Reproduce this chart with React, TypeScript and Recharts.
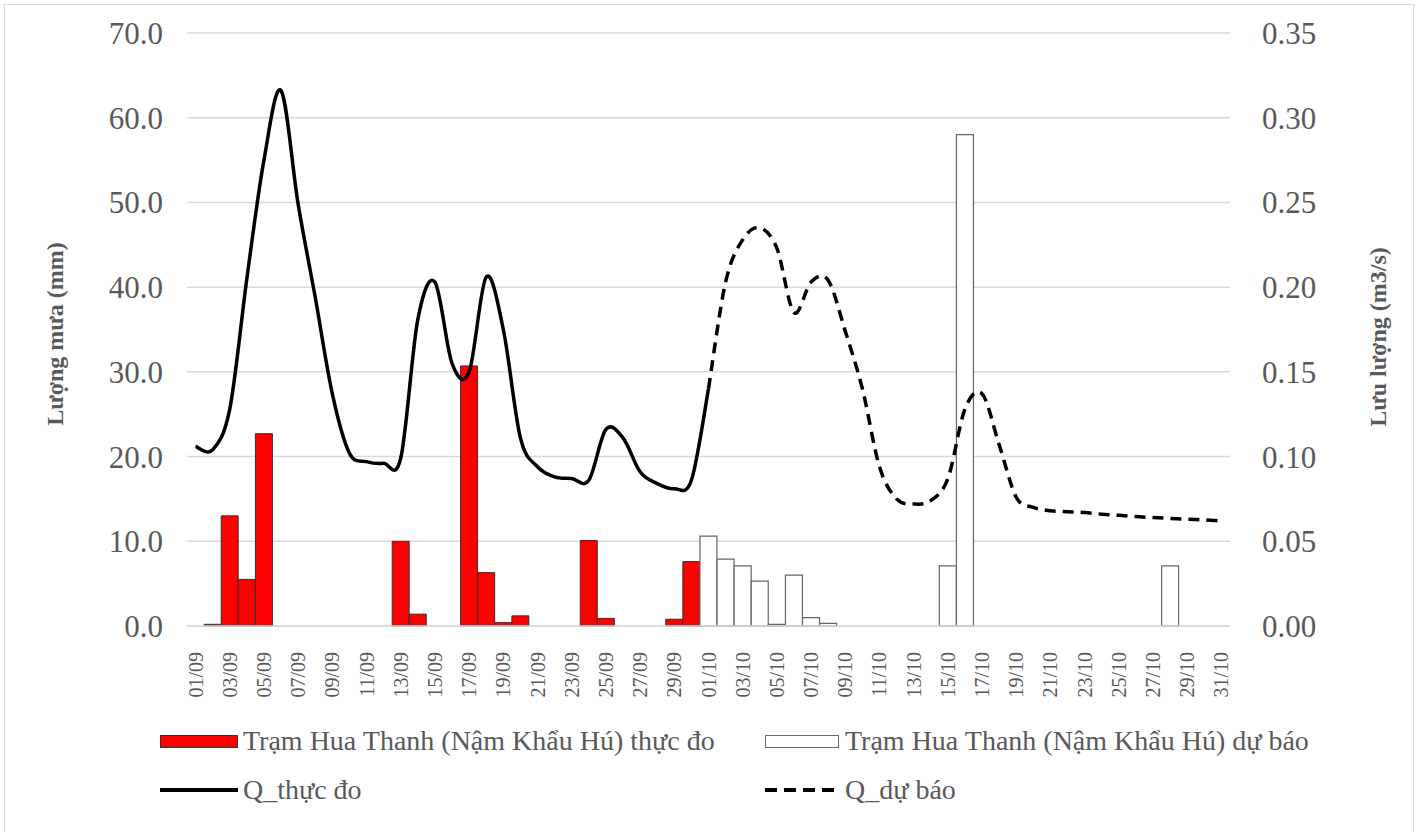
import {
    ComposedChart,
    Bar,
    Line,
    XAxis,
    YAxis,
    CartesianGrid,
} from "recharts";

const dates = [
    "01/09", "02/09", "03/09", "04/09", "05/09", "06/09", "07/09", "08/09", "09/09", "10/09",
    "11/09", "12/09", "13/09", "14/09", "15/09", "16/09", "17/09", "18/09", "19/09", "20/09",
    "21/09", "22/09", "23/09", "24/09", "25/09", "26/09", "27/09", "28/09", "29/09", "30/09",
    "01/10", "02/10", "03/10", "04/10", "05/10", "06/10", "07/10", "08/10", "09/10", "10/10",
    "11/10", "12/10", "13/10", "14/10", "15/10", "16/10", "17/10", "18/10", "19/10", "20/10",
    "21/10", "22/10", "23/10", "24/10", "25/10", "26/10", "27/10", "28/10", "29/10", "30/10",
    "31/10",
];

// luong mua thuc do (mm)
const rainObserved = [
    null, 0.2, 13.0, 5.5, 22.7, null, null, null, null, null,
    null, null, 10.0, 1.4, null, null, 30.7, 6.3, 0.4, 1.2,
    null, null, null, 10.1, 0.9, null, null, null, 0.8, 7.6,
    null, null, null, null, null, null, null, null, null, null,
    null, null, null, null, null, null, null, null, null, null,
    null, null, null, null, null, null, null, null, null, null,
    null,
];

// luong mua du bao (mm)
const rainForecast = [
    null, null, null, null, null, null, null, null, null, null,
    null, null, null, null, null, null, null, null, null, null,
    null, null, null, null, null, null, null, null, null, null,
    10.6, 7.9, 7.1, 5.3, 0.2, 6.0, 1.0, 0.3, null, null,
    null, null, null, null, 7.1, 58.0, null, null, null, null,
    null, null, null, null, null, null, null, 7.1, null, null,
    null,
];

// Q thuc do (m3/s)
const qObserved = [
    0.106, 0.104, 0.128, 0.205, 0.275, 0.316, 0.249, 0.194, 0.137, 0.102,
    0.097, 0.096, 0.099, 0.181, 0.203, 0.155, 0.150, 0.206, 0.175, 0.111,
    0.094, 0.088, 0.087, 0.086, 0.116, 0.111, 0.091, 0.084, 0.081, 0.086,
    0.140, null, null, null, null, null, null, null, null, null,
    null, null, null, null, null, null, null, null, null, null,
    null, null, null, null, null, null, null, null, null, null,
    null,
];

// Q du bao (m3/s)
const qForecast = [
    null, null, null, null, null, null, null, null, null, null,
    null, null, null, null, null, null, null, null, null, null,
    null, null, null, null, null, null, null, null, null, null,
    0.140, 0.203, 0.228, 0.235, 0.223, 0.185, 0.203, 0.204, 0.174, 0.140,
    0.094, 0.075, 0.072, 0.074, 0.087, 0.128, 0.137, 0.107, 0.076, 0.070,
    0.068, 0.0675, 0.067, 0.066, 0.0653, 0.0646, 0.064, 0.0635, 0.063, 0.0626,
    0.062,
];

const rainTicks = [0, 10, 20, 30, 40, 50, 60, 70];
const flowTicks = [0, 0.05, 0.1, 0.15, 0.2, 0.25, 0.3, 0.35];

const rows = dates.map((date, i) => ({
    date,
    rainObs: rainObserved[i],
    rainFc: rainForecast[i],
    qObs: qObserved[i],
    qFc: qForecast[i],
}));

const FONT = "'Liberation Serif', 'Times New Roman', serif";
const TEXT = "#595959";

// Excel-like smoothed line (uniform Catmull-Rom through the projected points)
const excelSmooth = (context: any) => {
    let pts: number[][] = [];
    return {
        areaStart() {},
        areaEnd() {},
        lineStart() {
            pts = [];
        },
        point(x: number, y: number) {
            pts.push([+x, +y]);
        },
        lineEnd() {
            if (!pts.length) return;
            context.moveTo(pts[0][0], pts[0][1]);
            for (let i = 0; i < pts.length - 1; i++) {
                const p0 = pts[i - 1] || pts[i];
                const p1 = pts[i];
                const p2 = pts[i + 1];
                const p3 = pts[i + 2] || p2;
                context.bezierCurveTo(
                    p1[0] + (p2[0] - p0[0]) / 6,
                    p1[1] + (p2[1] - p0[1]) / 6,
                    p2[0] - (p3[0] - p1[0]) / 6,
                    p2[1] - (p3[1] - p1[1]) / 6,
                    p2[0],
                    p2[1]
                );
            }
        },
    };
};

const DateTick = ({ x, y, payload }: any) => (
    <g transform={`translate(${x},${y})`}>
        <text
            transform="rotate(-90)"
            x={-26}
            y={0}
            dy="0.35em"
            textAnchor="end"
            fill={TEXT}
            fontSize={20}
            fontFamily={FONT}
        >
            {payload.value}
        </text>
    </g>
);

const legendText = {
    fontFamily: FONT,
    fontSize: 28,
    color: TEXT,
    whiteSpace: "nowrap" as const,
    position: "absolute" as const,
    lineHeight: "30px",
};

export default function App() {
    return (
        <div
            style={{
                position: "absolute",
                left: 0,
                top: 0,
                width: 1419,
                height: 832,
                overflow: "hidden",
                background: "#fff",
            }}
        >
            <div
                style={{
                    position: "absolute",
                    left: 4,
                    top: 4,
                    width: 1408,
                    height: 900,
                    border: "1px solid #d9d9d9",
                }}
            />

            <ComposedChart
                width={1419}
                height={832}
                data={rows}
                margin={{ top: 33, right: 0, bottom: 126, left: 0 }}
                barCategoryGap={0}
                barGap={0}
                style={{ position: "absolute", left: 0, top: 0 }}
            >
                <CartesianGrid yAxisId="left" vertical={false} stroke="#d9d9d9" strokeWidth={1.5} />

                <XAxis
                    dataKey="date"
                    interval={1}
                    height={80}
                    tickLine={false}
                    axisLine={{ stroke: "#d9d9d9", strokeWidth: 1.5 }}
                    tickSize={0}
                    tickMargin={0}
                    tick={<DateTick />}
                />

                <YAxis
                    yAxisId="left"
                    width={187}
                    domain={[0, 70]}
                    ticks={rainTicks}
                    tickFormatter={(v: number) => v.toFixed(1)}
                    axisLine={false}
                    tickLine={false}
                    tickSize={0}
                    tickMargin={24}
                    tick={{ fill: TEXT, fontSize: 31, fontFamily: FONT }}
                />

                <YAxis
                    yAxisId="right"
                    orientation="right"
                    width={189}
                    domain={[0, 0.35]}
                    ticks={flowTicks}
                    tickFormatter={(v: number) => v.toFixed(2)}
                    axisLine={false}
                    tickLine={false}
                    tickSize={0}
                    tickMargin={32}
                    tick={{ fill: TEXT, fontSize: 31, fontFamily: FONT }}
                />

                <Bar
                    yAxisId="left"
                    dataKey="rainObs"
                    stackId="rain"
                    fill="#ff0000"
                    stroke="#333333"
                    strokeWidth={1}
                    isAnimationActive={false}
                />
                <Bar
                    yAxisId="left"
                    dataKey="rainFc"
                    stackId="rain"
                    fill="#ffffff"
                    stroke="#666666"
                    strokeWidth={1.2}
                    isAnimationActive={false}
                />

                <Line
                    yAxisId="right"
                    type={excelSmooth as any}
                    dataKey="qObs"
                    stroke="#000000"
                    strokeWidth={3.5}
                    dot={false}
                    activeDot={false}
                    isAnimationActive={false}
                />
                <Line
                    yAxisId="right"
                    type={excelSmooth as any}
                    dataKey="qFc"
                    stroke="#000000"
                    strokeWidth={3.5}
                    strokeDasharray="11 7"
                    dot={false}
                    activeDot={false}
                    isAnimationActive={false}
                />
            </ComposedChart>

            {/* axis titles */}
            <div
                style={{
                    position: "absolute",
                    left: 55,
                    top: 334,
                    transform: "translate(-50%, -50%) rotate(-90deg)",
                    fontFamily: FONT,
                    fontSize: 24,
                    fontWeight: "bold",
                    color: TEXT,
                    whiteSpace: "nowrap",
                }}
            >
                Lượng mưa (mm)
            </div>
            <div
                style={{
                    position: "absolute",
                    left: 1378,
                    top: 337,
                    transform: "translate(-50%, -50%) rotate(-90deg)",
                    fontFamily: FONT,
                    fontSize: 24,
                    fontWeight: "bold",
                    color: TEXT,
                    whiteSpace: "nowrap",
                }}
            >
                Lưu lượng (m3/s)
            </div>

            {/* legend */}
            <div style={{ position: "absolute", left: 160, top: 735, width: 76, height: 11, background: "#ff0000", border: "1px solid #333" }} />
            <div style={{ ...legendText, left: 243, top: 726 }}>Trạm Hua Thanh (Nậm Khẩu Hú) thực đo</div>

            <div style={{ position: "absolute", left: 765, top: 735, width: 72, height: 11, background: "#fff", border: "1.5px solid #666" }} />
            <div style={{ ...legendText, left: 845, top: 726 }}>Trạm Hua Thanh (Nậm Khẩu Hú) dự báo</div>

            <div style={{ position: "absolute", left: 160, top: 788, width: 78, height: 4, background: "#000" }} />
            <div style={{ ...legendText, left: 243, top: 775 }}>Q_thực đo</div>

            <div
                style={{
                    position: "absolute",
                    left: 765,
                    top: 788,
                    width: 74,
                    height: 4,
                    background: "repeating-linear-gradient(to right, #000 0 12px, transparent 12px 19px)",
                }}
            />
            <div style={{ ...legendText, left: 845, top: 775 }}>Q_dự báo</div>
        </div>
    );
}
